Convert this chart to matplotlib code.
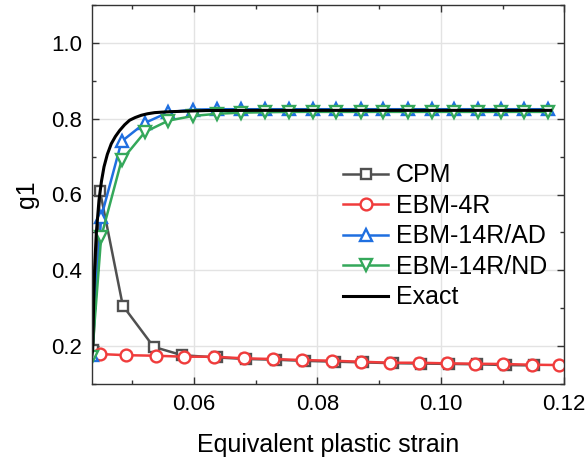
import matplotlib
matplotlib.use("Agg")
import matplotlib.pyplot as plt
from matplotlib.ticker import MultipleLocator

plt.rcParams['font.family'] = ['Liberation Sans', 'DejaVu Sans']

# CPM
cpm_x = [0.0437, 0.0448, 0.0485, 0.0535, 0.0581, 0.0637, 0.0685, 0.0733, 0.0780,
         0.0828, 0.0874, 0.0922, 0.0968, 0.1014, 0.1059, 0.1105, 0.1151]
cpm_y = [0.190, 0.610, 0.307, 0.198, 0.176, 0.170, 0.166, 0.164, 0.161,
         0.159, 0.157, 0.155, 0.154, 0.153, 0.152, 0.150, 0.149]

# EBM-4R
r4_x = [0.0435, 0.0448, 0.0491, 0.0538, 0.0584, 0.0633, 0.0681, 0.0729, 0.0776,
        0.0824, 0.0870, 0.0918, 0.0964, 0.1010, 0.1055, 0.1101, 0.1147, 0.1192]
r4_y = [0.182, 0.179, 0.176, 0.1746, 0.172, 0.172, 0.1677, 0.1659, 0.1632,
        0.1614, 0.1588, 0.1561, 0.1561, 0.1545, 0.1535, 0.1527, 0.1509, 0.150]

# EBM-14R/AD and EBM-14R/ND share the same strain points
r14_x = [0.0435, 0.0450, 0.0483, 0.0521, 0.0559, 0.0598, 0.0637, 0.0677, 0.0715,
         0.0754, 0.0793, 0.0831, 0.0870, 0.0907, 0.0947, 0.0985, 0.1022, 0.1060,
         0.1098, 0.1135, 0.1173]
ad_y = [0.177, 0.540, 0.740, 0.789, 0.817, 0.824, 0.825, 0.825, 0.825,
        0.825, 0.825, 0.825, 0.825, 0.825, 0.825, 0.825, 0.825, 0.825,
        0.825, 0.825, 0.825]
nd_y = [0.170, 0.488, 0.690, 0.765, 0.795, 0.807, 0.813, 0.816, 0.817,
        0.818, 0.818, 0.818, 0.818, 0.818, 0.818, 0.818, 0.818, 0.818,
        0.818, 0.818, 0.818]

# Exact
ex_x = [0.0435, 0.04363, 0.04379, 0.04395, 0.04421, 0.04465, 0.04505, 0.04546,
        0.04600, 0.04664, 0.04730, 0.04800, 0.04880, 0.04961, 0.05050, 0.05149,
        0.05250, 0.05365, 0.05500, 0.05634, 0.05904, 0.0620, 0.0700,
        0.0800, 0.0900, 0.1000, 0.1100, 0.1178]
ex_y = [0.175, 0.190, 0.321, 0.409, 0.497, 0.585, 0.635, 0.673,
        0.706, 0.734, 0.753, 0.769, 0.784, 0.796, 0.803, 0.809,
        0.813, 0.816, 0.8175, 0.8186, 0.8200, 0.8215, 0.822,
        0.822, 0.822, 0.822, 0.822, 0.822]

labels = ["CPM", "EBM-4R", "EBM-14R/AD", "EBM-14R/ND", "Exact"]
colors = ["#505050", "#f03c3c", "#1f6fe0", "#34a85a", "#000000"]

fig = plt.figure(figsize=(5.85, 4.59), dpi=100)
ax = fig.add_axes([91.9/585, 1-384/459, (564.3-91.9)/585, (384-5)/459])

mk = dict(markerfacecolor='white', markeredgewidth=1.7)
ax.plot(cpm_x, cpm_y, '-s', color=colors[0], lw=1.8, ms=7, label=labels[0], **mk)
ax.plot(r4_x, r4_y, '-o', color=colors[1], lw=1.8, ms=8.5, markevery=slice(1, None),
        label=labels[1], **mk)
ax.plot(r14_x, ad_y, '-^', color=colors[2], lw=1.8, ms=9, label=labels[2], **mk)
ax.plot(r14_x, nd_y, '-v', color=colors[3], lw=1.8, ms=9, label=labels[3], **mk)
ax.plot(ex_x, ex_y, '-', color=colors[4], lw=2.2, label=labels[4])

ax.set_xlim(0.0435, 0.12)
ax.set_ylim(0.1, 1.1)
ax.xaxis.set_major_locator(MultipleLocator(0.02))
ax.xaxis.set_minor_locator(MultipleLocator(0.01))
ax.yaxis.set_major_locator(MultipleLocator(0.2))
ax.yaxis.set_minor_locator(MultipleLocator(0.1))
ax.set_xticks([0.06, 0.08, 0.10, 0.12])
ax.set_xticklabels(["0.06", "0.08", "0.10", "0.12"])
ax.set_yticks([0.2, 0.4, 0.6, 0.8, 1.0])
ax.set_yticklabels(["0.2", "0.4", "0.6", "0.8", "1.0"])

ax.grid(True, which='major', color='#e3e3e3', lw=1.0)
ax.set_axisbelow(True)
ax.tick_params(which='both', direction='in', top=True, right=True, color='#333333')
ax.tick_params(which='major', length=5, width=1.0, labelsize=16, pad=7)
ax.tick_params(which='minor', length=3, width=1.0)
for s in ax.spines.values():
    s.set_color('#333333')
    s.set_linewidth(1.0)

ax.set_xlabel("Equivalent plastic strain", fontsize=18, labelpad=13)
ax.set_ylabel("g1", fontsize=18, labelpad=9)

leg = ax.legend(loc='upper left', bbox_to_anchor=(0.532, 0.582), frameon=False,
                fontsize=18, handlelength=1.8, handletextpad=0.3, labelspacing=0.26,
                borderpad=0, borderaxespad=0)

fig.savefig("out.png", dpi=100)
